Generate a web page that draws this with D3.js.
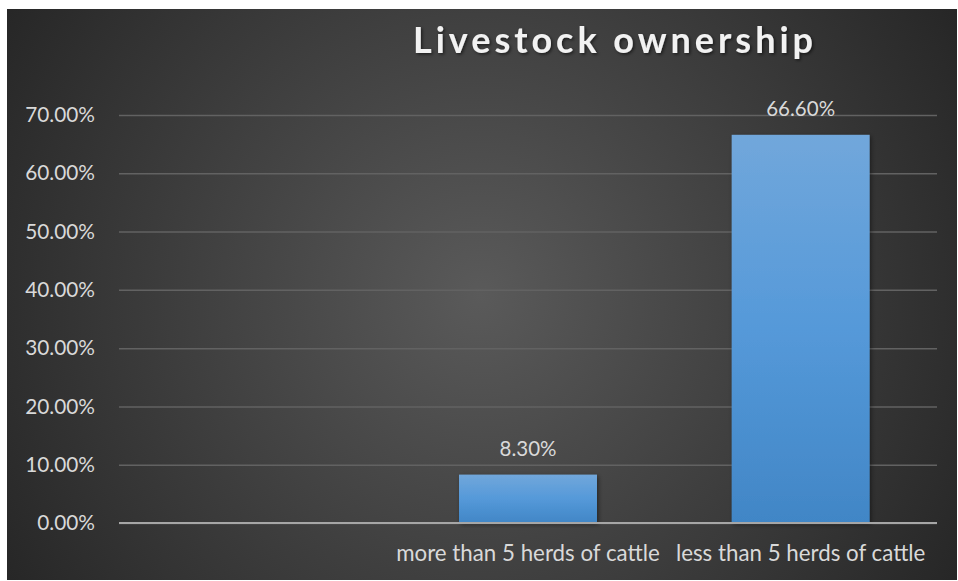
<!DOCTYPE html>
<html>
<head>
<meta charset="utf-8">
<script src="https://cdn.jsdelivr.net/npm/d3@7"></script>
<style>
  html, body { margin: 0; padding: 0; background: #ffffff; }
  svg { display: block; }
</style>
</head>
<body>
<svg id="chart" width="958" height="581"></svg>
<script>
const title = "Livestock ownership";
const categories = ["", "more than 5 herds of cattle", "less than 5 herds of cattle"];
const values = [null, 8.3, 66.6];
const valueLabels = ["", "8.30%", "66.60%"];
const yTicks = [0, 10, 20, 30, 40, 50, 60, 70];

(function () {
const svg = d3.select("#chart");
const defs = svg.append("defs");

const bg = defs.append("radialGradient").attr("id", "bg")
  .attr("gradientUnits", "userSpaceOnUse")
  .attr("cx", 480).attr("cy", 295).attr("r", 560);
bg.append("stop").attr("offset", "0%").attr("stop-color", "#5a5a5a");
bg.append("stop").attr("offset", "100%").attr("stop-color", "#262626");

const barGrad = defs.append("linearGradient").attr("id", "bar")
  .attr("x1", 0).attr("y1", 0).attr("x2", 0).attr("y2", 1);
barGrad.append("stop").attr("offset", "0%").attr("stop-color", "#71a7db");
barGrad.append("stop").attr("offset", "50%").attr("stop-color", "#5599d9");
barGrad.append("stop").attr("offset", "100%").attr("stop-color", "#4186c6");

const shadow = defs.append("filter").attr("id", "shadow")
  .attr("x", "-20%").attr("y", "-20%").attr("width", "140%").attr("height", "140%");
shadow.append("feDropShadow").attr("dx", 1.5).attr("dy", 1.5).attr("stdDeviation", 1.5)
  .attr("flood-color", "#000").attr("flood-opacity", 0.55);

const barShadow = defs.append("filter").attr("id", "barShadow")
  .attr("x", "-10%").attr("y", "-10%").attr("width", "120%").attr("height", "120%");
barShadow.append("feDropShadow").attr("dx", 1.5).attr("dy", 1.5).attr("stdDeviation", 2)
  .attr("flood-color", "#000").attr("flood-opacity", 0.45);

svg.append("rect").attr("x", 7).attr("y", 9).attr("width", 950).attr("height", 571)
  .attr("fill", "url(#bg)");

const mLeft = 119, mRight = 937, mTop = 115, mBottom = 523;

const x = d3.scaleBand().domain(categories.map((c, i) => i)).range([mLeft, mRight])
  .paddingInner(0.494).paddingOuter(0.247);
const y = d3.scaleLinear().domain([0, 70]).range([mBottom, mTop]);

const font = "Lato, 'Open Sans', sans-serif";

// gridlines
const yAxis = d3.axisLeft(y).tickValues(yTicks).tickSize(-(mRight - mLeft))
  .tickFormat(d => d.toFixed(2) + "%").tickPadding(24);
const gy = svg.append("g").attr("transform", `translate(${mLeft},0)`).call(yAxis);
gy.select(".domain").remove();
gy.selectAll(".tick line").attr("stroke", "#626262").attr("stroke-width", 1.5);
gy.selectAll(".tick text").attr("fill", "#d9d9d9").style("font-family", font)
  .style("font-size", "20.8px");

const data = values.map((v, i) => ({v, i})).filter(d => d.v != null);

// bars
svg.append("g").selectAll("rect").data(data)
  .join("rect")
  .attr("x", d => x(d.i))
  .attr("width", x.bandwidth())
  .attr("y", d => y(d.v))
  .attr("height", d => y(0) - y(d.v))
  .attr("fill", "url(#bar)")
  .attr("filter", "url(#barShadow)");

// baseline
svg.append("line").attr("x1", mLeft).attr("x2", mRight).attr("y1", y(0)).attr("y2", y(0))
  .attr("stroke", "#a6a6a6").attr("stroke-width", 2);

// value labels
svg.append("g").selectAll("text").data(data)
  .join("text")
  .attr("x", d => x(d.i) + x.bandwidth() / 2)
  .attr("y", d => y(d.v) - 19)
  .attr("text-anchor", "middle")
  .attr("fill", "#d9d9d9")
  .style("font-family", font).style("font-size", "20.5px")
  .text(d => valueLabels[d.i]);

// x axis labels
const xAxis = d3.axisBottom(x).tickSize(0).tickFormat(i => categories[i]).tickPadding(22);
const gx = svg.append("g").attr("transform", `translate(0,${mBottom})`).call(xAxis);
gx.select(".domain").remove();
gx.selectAll(".tick text").attr("fill", "#d9d9d9").style("font-family", font)
  .style("font-size", "22.3px");

// title
const t = svg.append("text").attr("x", 413).attr("y", 53).attr("text-anchor", "start")
  .attr("fill", "#f2f2f2").attr("filter", "url(#shadow)")
  .style("font-family", font).style("font-weight", "bold").style("font-size", "36px")
  .text(title);
const w = t.node().getComputedTextLength();
const targetW = 400;
t.style("letter-spacing", ((targetW - w) / (title.length - 1)) + "px");
})();
</script>
</body>
</html>
